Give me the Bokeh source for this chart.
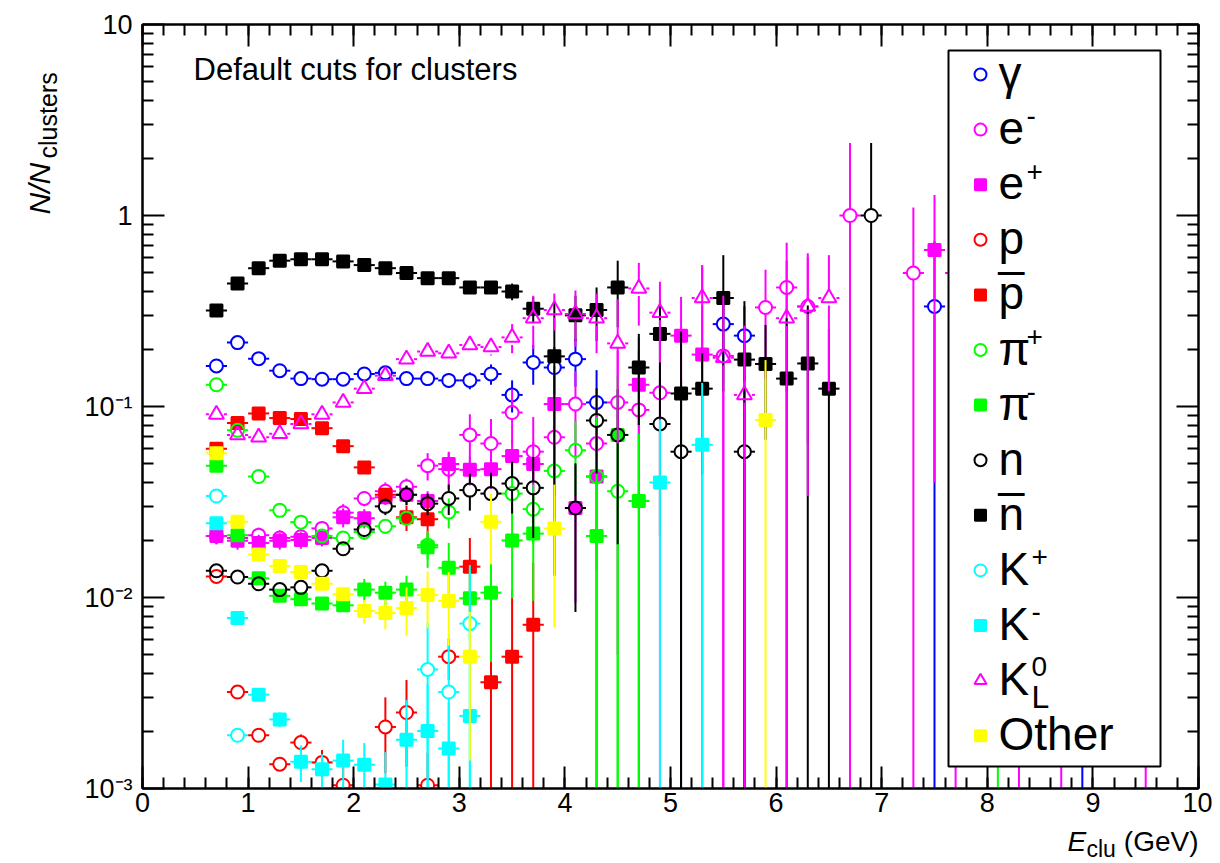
import math
from bokeh.plotting import figure
from bokeh.layouts import column, row
from bokeh.models import Range1d, LogAxis, LinearAxis, FixedTicker, Label, BoxAnnotation, CustomJSTickFormatter
from bokeh.embed import file_html
from bokeh.resources import INLINE

# ---------------- data ----------------
gamma_x = [0.7, 0.9, 1.1, 1.3, 1.5, 1.7, 1.9, 2.1, 2.3, 2.5, 2.7, 2.9, 3.1, 3.3, 3.5, 3.7, 3.9, 4.1, 4.3, 5.5, 5.7, 7.5, 8.9]
gamma_y = [0.163, 0.216, 0.178, 0.154, 0.140, 0.139, 0.139, 0.148, 0.150, 0.140, 0.140, 0.137, 0.137, 0.148, 0.115, 0.170, 0.160, 0.177, 0.105, 0.270, 0.235, 0.334, 0.5]
gamma_e = [0.003, 0.004, 0.003, 0.003, 0.003, 0.003, 0.004, 0.004, 0.005, 0.008, 0.010, 0.012, 0.014, 0.018, 0.022, 0.040, 0.045, 0.050, 0.050, 0.100, 0.100, 0.400, 1.0]

em_x = [0.7, 0.9, 1.1, 1.3, 1.5, 1.7, 1.9, 2.1, 2.3, 2.5, 2.7, 2.9, 3.1, 3.3, 3.5, 3.7, 3.9, 4.1, 4.3, 4.5, 4.7, 4.9, 5.5, 5.9, 6.1, 6.3, 6.7, 7.3, 7.7, 8.7]
em_y = [0.021, 0.0205, 0.0212, 0.0205, 0.0208, 0.023, 0.0278, 0.033, 0.036, 0.038, 0.049, 0.047, 0.071, 0.064, 0.093, 0.058, 0.069, 0.103, 0.064, 0.105, 0.096, 0.118, 0.184, 0.33, 0.42, 0.334, 1.0, 0.5, 0.5, 0.5]
em_e = [0.002, 0.002, 0.002, 0.002, 0.002, 0.002, 0.003, 0.003, 0.004, 0.004, 0.008, 0.010, 0.020, 0.022, 0.030, 0.030, 0.035, 0.050, 0.050, 0.100, 0.100, 0.120, 0.200, 0.190, 0.300, 0.270, 1.40, 0.60, 1.0, 1.0]

ep_x = [0.7, 0.9, 1.1, 1.3, 1.5, 1.7, 1.9, 2.1, 2.3, 2.5, 2.7, 2.9, 3.1, 3.3, 3.5, 3.7, 3.9, 4.1, 4.3, 4.7, 5.1, 5.3, 7.5, 8.3, 9.5]
ep_y = [0.021, 0.0198, 0.0193, 0.0198, 0.020, 0.0205, 0.0263, 0.026, 0.0335, 0.0345, 0.032, 0.050, 0.0466, 0.047, 0.055, 0.050, 0.103, 0.0294, 0.043, 0.130, 0.235, 0.187, 0.66, 0.5, 0.5]
ep_e = [0.002, 0.002, 0.002, 0.002, 0.002, 0.002, 0.003, 0.003, 0.003, 0.004, 0.004, 0.008, 0.008, 0.010, 0.012, 0.015, 0.060, 0.020, 0.045, 0.100, 0.140, 0.360, 0.62, 1.0, 1.0]

p_x = [0.7, 0.9, 1.1, 1.3, 1.5, 1.7, 1.9, 2.3, 2.5, 2.7, 2.9]
p_y = [0.0129, 0.0032, 0.0019, 0.00134, 0.00174, 0.00137, 0.00104, 0.0021, 0.0025, 0.00104, 0.0049]
p_e = [0.0005, 0.0002, 0.00015, 0.0001, 0.00018, 0.00022, 0.0003, 0.0009, 0.0012, 0.0005, 0.0012]

pbar_x = [0.7, 0.9, 1.1, 1.3, 1.5, 1.7, 1.9, 2.1, 2.3, 2.5, 2.7, 3.1, 3.3, 3.5, 3.7]
pbar_y = [0.060, 0.082, 0.092, 0.087, 0.086, 0.077, 0.062, 0.048, 0.0345, 0.0263, 0.0257, 0.0145, 0.0036, 0.0049, 0.0072]
pbar_e = [0.002, 0.002, 0.002, 0.002, 0.002, 0.002, 0.002, 0.002, 0.003, 0.004, 0.008, 0.006, 0.0045, 0.006, 0.008]

pip_x = [0.7, 0.9, 1.1, 1.3, 1.5, 1.7, 1.9, 2.1, 2.3, 2.5, 2.7, 2.9, 3.5, 3.7, 3.9, 4.1, 4.3, 4.5, 8.1]
pip_y = [0.130, 0.075, 0.043, 0.0286, 0.0248, 0.021, 0.0205, 0.022, 0.0236, 0.026, 0.0188, 0.028, 0.035, 0.029, 0.046, 0.059, 0.043, 0.036, 0.5]
pip_e = [0.002, 0.002, 0.001, 0.001, 0.001, 0.001, 0.001, 0.002, 0.002, 0.002, 0.003, 0.005, 0.010, 0.010, 0.020, 0.025, 0.045, 0.040, 1.0]

pim_x = [0.7, 0.9, 1.1, 1.3, 1.5, 1.7, 1.9, 2.1, 2.3, 2.5, 2.7, 2.9, 3.1, 3.3, 3.5, 3.7, 4.3, 4.5, 4.7]
pim_y = [0.049, 0.0212, 0.0126, 0.0102, 0.0098, 0.0093, 0.0091, 0.011, 0.0106, 0.011, 0.0183, 0.0143, 0.0099, 0.0106, 0.0199, 0.0216, 0.021, 0.071, 0.032]
pim_e = [0.001, 0.0006, 0.0005, 0.0005, 0.0005, 0.0005, 0.0006, 0.0015, 0.0015, 0.002, 0.004, 0.005, 0.004, 0.006, 0.010, 0.012, 0.025, 0.075, 0.040]

n_x = [0.7, 0.9, 1.1, 1.3, 1.5, 1.7, 1.9, 2.1, 2.3, 2.5, 2.7, 2.9, 3.1, 3.3, 3.5, 3.7, 4.1, 4.3, 4.5, 4.9, 5.1, 5.7, 6.9]
n_y = [0.0138, 0.0128, 0.0118, 0.0110, 0.0113, 0.0138, 0.018, 0.0227, 0.030, 0.0345, 0.031, 0.033, 0.0365, 0.035, 0.0395, 0.0375, 0.0294, 0.0845, 0.071, 0.081, 0.058, 0.058, 1.0]
n_e = [0.0005, 0.0005, 0.0005, 0.0005, 0.0005, 0.0006, 0.001, 0.002, 0.003, 0.004, 0.004, 0.006, 0.008, 0.010, 0.012, 0.017, 0.021, 0.040, 0.052, 0.060, 0.080, 0.070, 1.40]

nbar_x = [0.7, 0.9, 1.1, 1.3, 1.5, 1.7, 1.9, 2.1, 2.3, 2.5, 2.7, 2.9, 3.1, 3.3, 3.5, 3.7, 3.9, 4.1, 4.3, 4.5, 4.7, 4.9, 5.1, 5.3, 5.5, 5.7, 5.9, 6.1, 6.3, 6.5]
nbar_y = [0.318, 0.44, 0.53, 0.58, 0.59, 0.59, 0.575, 0.55, 0.53, 0.50, 0.47, 0.47, 0.42, 0.42, 0.40, 0.325, 0.183, 0.30, 0.32, 0.42, 0.16, 0.24, 0.117, 0.124, 0.37, 0.176, 0.167, 0.14, 0.168, 0.124]
nbar_e = [0.006, 0.008, 0.008, 0.008, 0.009, 0.009, 0.010, 0.010, 0.012, 0.012, 0.014, 0.015, 0.020, 0.025, 0.040, 0.050, 0.170, 0.080, 0.100, 0.160, 0.080, 0.120, 0.130, 0.080, 0.250, 0.180, 0.100, 0.150, 0.170, 0.130]

kp_x = [0.7, 0.9, 2.7, 2.9, 3.1]
kp_y = [0.034, 0.0019, 0.0042, 0.0032, 0.0073]
kp_e = [0.001, 0.0001, 0.0032, 0.0025, 0.0075]

km_x = [0.7, 0.9, 1.1, 1.3, 1.5, 1.7, 1.9, 2.1, 2.3, 2.5, 2.7, 2.9, 3.1, 4.9, 5.3]
km_y = [0.0245, 0.0078, 0.0031, 0.0023, 0.00138, 0.00126, 0.0014, 0.00133, 0.00105, 0.0018, 0.0020, 0.00162, 0.0024, 0.040, 0.063]
km_e = [0.001, 0.0003, 0.0002, 0.0002, 0.0003, 0.00025, 0.0004, 0.0004, 0.0005, 0.0011, 0.0015, 0.0012, 0.0020, 0.045, 0.070]

k0l_x = [0.7, 0.9, 1.1, 1.3, 1.5, 1.7, 1.9, 2.1, 2.3, 2.5, 2.7, 2.9, 3.1, 3.3, 3.5, 3.7, 3.9, 4.1, 4.3, 4.5, 4.7, 4.9, 5.3, 5.5, 5.7, 6.1, 6.3, 6.5]
k0l_y = [0.091, 0.071, 0.069, 0.072, 0.081, 0.091, 0.105, 0.124, 0.145, 0.177, 0.194, 0.190, 0.210, 0.205, 0.230, 0.290, 0.320, 0.305, 0.290, 0.214, 0.415, 0.310, 0.370, 0.180, 0.115, 0.290, 0.334, 0.370]
k0l_e = [0.003, 0.003, 0.003, 0.003, 0.003, 0.004, 0.004, 0.005, 0.006, 0.008, 0.010, 0.012, 0.015, 0.020, 0.040, 0.090, 0.070, 0.100, 0.100, 0.150, 0.150, 0.140, 0.180, 0.200, 0.150, 0.290, 0.300, 0.250]

oth_x = [0.7, 0.9, 1.1, 1.3, 1.5, 1.7, 1.9, 2.1, 2.3, 2.5, 2.7, 2.9, 3.1, 3.3, 3.9, 5.9]
oth_y = [0.057, 0.0249, 0.0168, 0.0146, 0.0136, 0.0118, 0.0104, 0.0085, 0.0083, 0.0088, 0.0103, 0.0096, 0.0049, 0.0249, 0.023, 0.085]
oth_e = [0.001, 0.0006, 0.0005, 0.0005, 0.0005, 0.0005, 0.0006, 0.0012, 0.0015, 0.0025, 0.0034, 0.004, 0.0035, 0.010, 0.016, 0.090]

bin_half = 0.1

# (legend key, x, y, err, marker, colour, filled)
series = [
    ("γ", gamma_x, gamma_y, gamma_e, "circle", "#0000ff", False),
    ("e-", em_x, em_y, em_e, "circle", "#ff00ff", False),
    ("e+", ep_x, ep_y, ep_e, "square", "#ff00ff", True),
    ("p", p_x, p_y, p_e, "circle", "#ff0000", False),
    ("pbar", pbar_x, pbar_y, pbar_e, "square", "#ff0000", True),
    ("π+", pip_x, pip_y, pip_e, "circle", "#00ff00", False),
    ("π-", pim_x, pim_y, pim_e, "square", "#00ff00", True),
    ("n", n_x, n_y, n_e, "circle", "#000000", False),
    ("nbar", nbar_x, nbar_y, nbar_e, "square", "#000000", True),
    ("K+", kp_x, kp_y, kp_e, "circle", "#00ffff", False),
    ("K-", km_x, km_y, km_e, "square", "#00ffff", True),
    ("K0L", k0l_x, k0l_y, k0l_e, "triangle", "#ff00ff", False),
    ("Other", oth_x, oth_y, oth_e, "square", "#ffff00", True),
]

# ---------------- geometry ----------------
FONT = "Liberation Sans"
BASE_SHIFT = 0.38          # text renders this many em below the requested baseline
YW = 68                    # width of the strip holding the y title
LEFT, TOP = 142, 24        # page position of the frame
FW, FH = 1056, 764
RB, BB = 14, 36            # right / bottom borders of the main figure
MAIN_H = TOP + FH + BB
XH = 38                    # height of the strip holding the x title
TOTAL_W = LEFT + FW + RB
X0, X1 = 0.0, 10.0
Y0, Y1 = 1e-3, 10.0
PX_PER_X = FW / (X1 - X0)
PX_PER_DEC = FH / (math.log10(Y1) - math.log10(Y0))


def vx(px):
    return X0 + (px - LEFT) / PX_PER_X


def vy(py):
    return 10 ** (math.log10(Y1) - (py - TOP) / PX_PER_DEC)


def fixb(py, fs):
    return py - BASE_SHIFT * fs


p = figure(frame_width=FW, frame_height=FH, x_range=Range1d(X0, X1), y_range=Range1d(Y0, Y1),
           y_axis_type="log", output_backend="svg", toolbar_location=None,
           min_border_left=LEFT - YW, min_border_right=RB, min_border_top=TOP, min_border_bottom=BB)
p.grid.visible = False
p.outline_line_color = "black"
p.outline_line_width = 2
p.background_fill_color = "white"
p.border_fill_color = "white"

xt = FixedTicker(ticks=list(range(0, 11)), minor_ticks=[i * 0.2 for i in range(0, 51)])
ymaj = [1e-3, 1e-2, 1e-1, 1.0, 10.0]
ymin = [m * d for d in [1e-3, 1e-2, 1e-1, 1.0] for m in range(2, 10)]
yt = FixedTicker(ticks=ymaj, minor_ticks=ymin)
blank = CustomJSTickFormatter(code="return ''")


def style_axis(ax):
    ax.axis_line_width = 2
    ax.major_tick_line_width = 2
    ax.minor_tick_line_width = 2
    ax.major_tick_in = 22
    ax.major_tick_out = 0
    ax.minor_tick_in = 11
    ax.minor_tick_out = 0
    ax.major_label_text_font = FONT
    ax.major_label_text_color = "black"
    ax.major_label_text_font_size = "27px"


p.xaxis.ticker = xt
style_axis(p.xaxis[0])
p.xaxis.major_label_standoff = 4
p.yaxis.ticker = yt
style_axis(p.yaxis[0])
p.yaxis.major_label_standoff = 10
p.yaxis.major_label_overrides = {1e-3: "10⁻³", 1e-2: "10⁻²", 1e-1: "10⁻¹", 1.0: "1", 10.0: "10"}

top_ax = LinearAxis(ticker=xt, formatter=blank)
style_axis(top_ax)
top_ax.major_label_standoff = 0
p.add_layout(top_ax, "above")
right_ax = LogAxis(ticker=yt, formatter=blank)
style_axis(right_ax)
right_ax.major_label_standoff = 0
p.add_layout(right_ax, "right")

# ---------------- data marks with error bars ----------------
SIZE = {"circle": 13, "square": 12, "triangle": 15}
for name, xs, ys, es, marker, col, filled in series:
    r = SIZE[marker] / 2.0
    gx = r / PX_PER_X
    gy = 10 ** (r / PX_PER_DEC)
    x0s, y0s, x1s, y1s = [], [], [], []
    for x, y, e in zip(xs, ys, es):
        x0s += [x - bin_half, x + gx]
        x1s += [x - gx, x + bin_half]
        y0s += [y, y]
        y1s += [y, y]
        if y + e > y * gy:
            x0s.append(x); x1s.append(x); y0s.append(y * gy); y1s.append(y + e)
        lo = y - e
        lo = lo if lo > 0 else Y0 * 0.01
        if lo < y / gy:
            x0s.append(x); x1s.append(x); y0s.append(lo); y1s.append(y / gy)
    p.segment(x0=x0s, y0=y0s, x1=x1s, y1=y1s, line_color=col, line_width=2)
    p.scatter(x=xs, y=ys, marker=marker, size=SIZE[marker], line_color=col, line_width=2,
              fill_color=col if filled else None)

# ---------------- in-frame text ----------------
p.add_layout(Label(x=vx(193), y=vy(fixb(81, 31)), text="Default cuts for clusters", text_font=FONT,
                   text_font_size="31px", text_color="black", text_baseline="alphabetic"))

# ---------------- legend ----------------
p.add_layout(BoxAnnotation(left=vx(948), right=vx(1160), top=vy(50), bottom=vy(766),
                           fill_color="white", fill_alpha=1.0, line_color="black", line_alpha=1.0,
                           line_width=2))
ROW0, ROWH = 74, 55.1
MX, TX = 980, 998
LFS, SFS = 46, 28
legend_text = {
    "γ": ("γ", None, None, False), "e-": ("e", "-", None, False), "e+": ("e", "+", None, False),
    "p": ("p", None, None, False), "pbar": ("p", None, None, True), "π+": ("π", "+", None, False),
    "π-": ("π", "-", None, False), "n": ("n", None, None, False), "nbar": ("n", None, None, True),
    "K+": ("K", "+", None, False), "K-": ("K", "-", None, False), "K0L": ("K", "0", "L", False),
    "Other": ("Other", None, None, False),
}
main_w = {"γ": 24, "e": 26, "p": 26, "π": 26, "n": 26, "K": 31, "Other": 120}
lx, ly, lm, lc, lf = [], [], [], [], []
for i, (name, xs, ys, es, marker, col, filled) in enumerate(series):
    cy = ROW0 + ROWH * i
    lx.append(vx(MX)); ly.append(vy(cy)); lm.append(marker); lc.append(col)
    lf.append(col if filled else None)
    main, sup, sub, bar = legend_text[name]
    base = cy + 16
    p.add_layout(Label(x=vx(TX), y=vy(fixb(base, LFS)), text=main, text_font=FONT, text_color="black",
                       text_font_size=f"{LFS}px", text_baseline="alphabetic"))
    w = main_w[main]
    if sup is not None:
        p.add_layout(Label(x=vx(TX + w + 2), y=vy(fixb(base - 19, SFS)), text=sup, text_font=FONT,
                           text_color="black", text_font_size=f"{SFS}px", text_baseline="alphabetic"))
    if sub is not None:
        p.add_layout(Label(x=vx(TX + w + 2), y=vy(fixb(base + 13, SFS + 4)), text=sub, text_font=FONT,
                           text_color="black", text_font_size=f"{SFS + 4}px", text_baseline="alphabetic"))
    if bar:
        p.add_layout(Label(x=vx(TX), y=vy(fixb(base - 43, LFS)), text="_", text_font=FONT,
                           text_color="black", text_font_size=f"{LFS}px", text_baseline="alphabetic"))
leg = p.scatter(x=lx, y=ly, marker=lm, size=[11 if m == "square" else 12 for m in lm],
                line_color=lc, fill_color=lf, line_width=2)
leg.level = "overlay"


# ---------------- title strips (text outside the frame) ----------------
def strip(w, h):
    f = figure(frame_width=w, frame_height=h, x_range=Range1d(0, w), y_range=Range1d(0, h),
               x_axis_type=None, y_axis_type=None, output_backend="svg", toolbar_location=None,
               min_border=0)
    f.grid.visible = False
    f.outline_line_color = None
    f.background_fill_color = "white"
    f.border_fill_color = "white"
    return f


ys_fig = strip(YW, MAIN_H)
# page px -> strip data: x same, y = MAIN_H - page_y; rotated text: baseline offset goes to +x
ys_fig.add_layout(Label(x=50 - BASE_SHIFT * 30, y=MAIN_H - 190, text="N/N", text_font=FONT,
                        text_font_style="italic", text_font_size="30px", angle=math.pi / 2,
                        text_color="black", text_baseline="alphabetic", text_align="left"))
ys_fig.add_layout(Label(x=57 - BASE_SHIFT * 25, y=MAIN_H - 134, text="clusters", text_font=FONT,
                        text_font_size="25px", angle=math.pi / 2, text_color="black",
                        text_baseline="alphabetic", text_align="left"))

xs_fig = strip(TOTAL_W, XH)
BOT = MAIN_H + XH


def xlab(px, py, text, fs, style="normal", align="left"):
    xs_fig.add_layout(Label(x=px, y=BOT - fixb(py, fs), text=text, text_font=FONT, text_font_style=style,
                            text_color="black", text_font_size=f"{fs}px", text_baseline="alphabetic",
                            text_align=align))


xlab(1067, 852, "E", 28, "italic")
xlab(1086, 857, "clu", 23)
xlab(1198, 852, "(GeV)", 28, align="right")

layout = column(row(ys_fig, p), xs_fig)
open("out.html", "w").write(file_html(layout, INLINE))
